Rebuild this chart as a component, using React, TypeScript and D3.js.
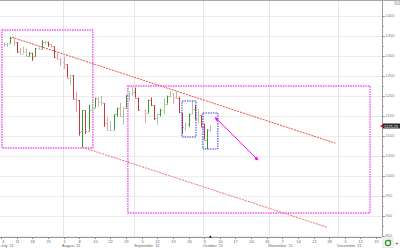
import React from "react";
import * as d3 from "d3";

const dates = [
  "2011-07-01","2011-07-05","2011-07-06","2011-07-07","2011-07-08",
  "2011-07-11","2011-07-12","2011-07-13","2011-07-14","2011-07-15",
  "2011-07-18","2011-07-19","2011-07-20","2011-07-21","2011-07-22",
  "2011-07-25","2011-07-26","2011-07-27","2011-07-28","2011-07-29",
  "2011-08-01","2011-08-02","2011-08-03","2011-08-04","2011-08-05",
  "2011-08-08","2011-08-09","2011-08-10","2011-08-11","2011-08-12",
  "2011-08-15","2011-08-16","2011-08-17","2011-08-18","2011-08-19",
  "2011-08-22","2011-08-23","2011-08-24","2011-08-25","2011-08-26",
  "2011-08-29","2011-08-30","2011-08-31","2011-09-01","2011-09-02",
  "2011-09-06","2011-09-07","2011-09-08","2011-09-09",
  "2011-09-12","2011-09-13","2011-09-14","2011-09-15","2011-09-16",
  "2011-09-19","2011-09-20","2011-09-21","2011-09-22","2011-09-23",
  "2011-09-26","2011-09-27","2011-09-28","2011-09-29","2011-09-30",
  "2011-10-03","2011-10-04","2011-10-05",
];
const opens = [
  1313,1332,1330,1332,1344, 1335,1312,1306,1310,1301, 1308,1299,1321,1318,1336,
  1336,1329,1324,1297,1292, 1285,1279,1246,1252,1192, 1190,1112,1164,1113,1165,
  1171,1196,1185,1182,1132, 1116,1116,1154,1169,1151, 1170,1202,1205,1211,1196,
  1166,1158,1190,1177, 1146,1155,1165,1181,1201, 1207,1197,1196,1157,1121,
  1129,1155,1167,1144,1152, 1123,1089,1117,
];
const highs = [
  1333,1333,1333,1348,1344, 1335,1319,1323,1319,1310, 1308,1320,1322,1339,1338,
  1336,1331,1324,1308,1296, 1299,1279,1253,1252,1210, 1190,1165,1164,1178,1181,
  1196,1196,1200,1182,1147, 1137,1154,1171,1183,1173, 1202,1212,1223,1221,1196,
  1166,1191,1196,1177, 1155,1168,1194,1201,1212, 1207,1212,1198,1157,1134,
  1156,1188,1177,1167,1152, 1131,1117,1127,
];
const lows = [
  1310,1323,1323,1332,1326, 1308,1305,1306,1298,1299, 1288,1299,1316,1318,1329,
  1323,1321,1295,1291,1275, 1267,1246,1227,1192,1160, 1101,1072,1105,1113,1163,
  1171,1173,1176,1123,1114, 1113,1116,1148,1147,1128, 1170,1188,1201,1196,1163,
  1132,1158,1175,1140, 1128,1149,1155,1181,1196, 1180,1193,1158,1106,1113,
  1123,1155,1142,1132,1123, 1091,1067,1110,
];
const closes = [
  1332,1330,1331,1345,1336, 1311,1306,1310,1301,1308, 1297,1319,1318,1336,1337,
  1329,1324,1297,1293,1284, 1279,1246,1252,1192,1191, 1111,1165,1113,1165,1171,
  1196,1185,1186,1133,1116, 1116,1154,1170,1151,1169, 1202,1205,1211,1196,1166,
  1157,1191,1178,1146, 1154,1165,1181,1201,1208, 1196,1194,1159,1122,1128,
  1155,1167,1143,1152,1123, 1091,1116,1125,
];

const priceTicks = [850, 900, 950, 1000, 1050, 1100, 1150, 1200, 1250, 1300, 1350, 1400];
const minorTicks = [875, 925, 975, 1025, 1075, 1125, 1175, 1225, 1275, 1325, 1375];
const weekTicks = [
  "2011-07-04","2011-07-11","2011-07-18","2011-07-25","2011-08-01","2011-08-08",
  "2011-08-15","2011-08-22","2011-08-29","2011-09-05","2011-09-12","2011-09-19",
  "2011-09-26","2011-10-03","2011-10-10","2011-10-17","2011-10-24","2011-10-31",
  "2011-11-07","2011-11-14","2011-11-21","2011-11-28","2011-12-05","2011-12-12","2011-12-19",
];
const monthStarts = ["2011-07-01", "2011-08-01", "2011-09-01", "2011-10-03", "2011-11-01", "2011-12-01"];
const monthLabels = ["July '11", "August '11", "September '11", "October '11", "November '11", "December '11"];
const lastPriceLabel = "1125.25";

// annotations in data units: [weekday index, price]
const upperTrend = [[3.5, 1347], [107, 1082]];
const lowerTrend = [[26, 1072], [104.3, 872]];
const magentaBoxes = [
  [[0.3, 1365], [29.4, 1070]],
  [[40.6, 1225], [118.1, 907.5]],
];
const blueBoxes = [
  [[57.9, 1187.5], [62.4, 1097.5]],
  [[64.6, 1157.5], [69.4, 1067.5]],
];
const arrowPts = [[68.6, 1146], [82.2, 1040]];
const todayIdx = 67;

const base = Date.UTC(2011, 6, 4);
function wIdx(s: string): number {
  const [y, m, d] = s.split("-").map(Number);
  const days = Math.round((Date.UTC(y, m - 1, d) - base) / 86400000);
  const weeks = Math.floor(days / 7);
  const rem = days - weeks * 7;
  return weeks * 5 + Math.min(rem, 5);
}

export default function App() {
  const W = 400, H = 248;
  const plotR = 382, plotB = 237;
  const x = d3.scaleLinear().domain([0, 120]).range([1, 376]);
  const y = d3.scaleLinear().domain([850, 1400]).range([236, 16]);

  const bars = dates.map((d, i) => {
    const o = opens[i], h = highs[i], l = lows[i], c = closes[i];
    const prev = i > 0 ? closes[i - 1] : o;
    const up = c >= prev;
    const strong = Math.abs(c - o) / Math.max(1, h - l) > 0.5;
    const col = up ? (strong ? "#2f9a2f" : "#9ccf9c") : (strong ? "#c33a3a" : "#e6a3a3");
    return { xi: Math.round(x(wIdx(d))) + 0.5, o, h, l, c, col };
  });

  const font = "Liberation Sans, Arial, sans-serif";
  const box = (b: number[][]) => ({
    x: x(b[0][0]), y: y(b[0][1]), width: x(b[1][0]) - x(b[0][0]), height: y(b[1][1]) - y(b[0][1]),
  });

  return (
    <div style={{ position: "fixed", left: 0, top: 0 }}>
      <svg width={W} height={H} style={{ display: "block", background: "#fff" }}>
        <defs>
          <clipPath id="plot"><rect x={0} y={0} width={plotR} height={plotB} /></clipPath>
          <marker id="ah" viewBox="0 0 10 10" refX="8" refY="5" markerWidth="4" markerHeight="4" orient="auto-start-reverse">
            <path d="M0,0 L10,5 L0,10 z" fill="#ff00ff" />
          </marker>
        </defs>
        {/* grid */}
        {priceTicks.map((p) => (
          <line key={"g" + p} x1={0} x2={plotR} y1={Math.round(y(p)) + 0.5} y2={Math.round(y(p)) + 0.5} stroke="#ececec" />
        ))}
        {monthStarts.slice(1).map((m) => (
          <line key={"v" + m} x1={Math.round(x(wIdx(m))) - 0.5} x2={Math.round(x(wIdx(m))) - 0.5} y1={0} y2={plotB} stroke="#e6e6e6" />
        ))}
        {/* top border */}
        <line x1={0} x2={W} y1={0.5} y2={0.5} stroke="#a8a8a8" />
        <rect x={395} y={0.5} width={5} height={4} fill="#ddd" stroke="#999" strokeWidth={0.5} />

        <g clipPath="url(#plot)">
          {/* magenta boxes */}
          {magentaBoxes.map((b, i) => (
            <rect key={"mb" + i} {...box(b)} fill="none" stroke="#f050f0" strokeWidth={1.4} strokeDasharray="1.5 1" />
          ))}
          {/* trend lines */}
          <line x1={x(upperTrend[0][0])} y1={y(upperTrend[0][1])} x2={x(upperTrend[1][0])} y2={y(upperTrend[1][1])}
            stroke="#f04848" strokeWidth={1} strokeDasharray="2 1" />
          <line x1={x(lowerTrend[0][0])} y1={y(lowerTrend[0][1])} x2={x(lowerTrend[1][0])} y2={y(lowerTrend[1][1])}
            stroke="#f08080" strokeWidth={1.1} strokeDasharray="2 1" />
          {/* bars */}
          {bars.map((b, i) => (
            <g key={"b" + i} stroke={b.col} strokeWidth={1}>
              <line x1={b.xi} x2={b.xi} y1={y(b.h)} y2={y(b.l)} />
              <line x1={b.xi - 1} x2={b.xi} y1={Math.round(y(b.o)) + 0.5} y2={Math.round(y(b.o)) + 0.5} />
              <line x1={b.xi} x2={b.xi + 1} y1={Math.round(y(b.c)) + 0.5} y2={Math.round(y(b.c)) + 0.5} />
            </g>
          ))}
          {/* blue boxes */}
          {blueBoxes.map((b, i) => (
            <rect key={"bb" + i} {...box(b)} fill="none" stroke="#3535e0" strokeWidth={1} strokeDasharray="1.5 1" />
          ))}
          {/* arrow */}
          <line x1={x(arrowPts[0][0])} y1={y(arrowPts[0][1])} x2={x(arrowPts[1][0])} y2={y(arrowPts[1][1])}
            stroke="#ff00ff" strokeWidth={1} markerStart="url(#ah)" markerEnd="url(#ah)" />
        </g>

        {/* right axis */}
        <line x1={plotR + 0.5} x2={plotR + 0.5} y1={0} y2={plotB} stroke="#999" />
        {priceTicks.map((p) => (
          <g key={"t" + p}>
            <line x1={plotR} x2={plotR + 3} y1={Math.round(y(p)) + 0.5} y2={Math.round(y(p)) + 0.5} stroke="#999" />
            <text x={plotR + 3.5} y={y(p) + 1.4} fontSize={4} fill="#777" fontFamily={font}>{p}</text>
          </g>
        ))}
        {minorTicks.map((p) => (
          <line key={"mt" + p} x1={plotR} x2={plotR + 2} y1={Math.round(y(p)) + 0.5} y2={Math.round(y(p)) + 0.5} stroke="#aaa" />
        ))}
        {/* last price label */}
        <rect x={plotR + 1} y={y(closes[closes.length - 1]) - 2.5} width={18} height={5} fill="#2a2a2a" />
        <path d={`M${plotR - 2},${y(closes[closes.length - 1])} l3,-2 v4 z`} fill="#e02020" />
        <text x={plotR + 2} y={y(closes[closes.length - 1]) + 1.5} fontSize={4} fill="#fff" fontFamily={font}>{lastPriceLabel}</text>

        {/* bottom axis */}
        <line x1={0} x2={plotR} y1={plotB + 0.5} y2={plotB + 0.5} stroke="#999" />
        {weekTicks.map((t, i) => {
          const xx = Math.round(x(wIdx(t))) + 0.5;
          const day = String(Number(t.slice(8)));
          return (
            <g key={"wt" + i}>
              <line x1={xx} x2={xx} y1={plotB} y2={plotB + 2} stroke="#888" />
              <text x={i === 0 ? xx + 0.5 : xx} y={243} fontSize={4} fill="#666" textAnchor={i === 0 ? "start" : "middle"} fontFamily={font}>{day}</text>
            </g>
          );
        })}
        {monthStarts.map((m, i) => (
          <text key={"ml" + i} x={i === 0 ? 0.5 : x(wIdx(m)) - 1.5} y={247} fontSize={4} fill="#666" fontFamily={font}>{monthLabels[i]}</text>
        ))}
        <path d={`M${x(todayIdx)},${plotB - 1.5} l-1.5,2 h3 z`} fill="#000" />

        {/* corner icons */}
        <rect x={plotR + 1} y={plotB + 1} width={10} height={10} fill="#f4f4f4" stroke="#ccc" strokeWidth={0.5} />
        <circle cx={plotR + 6} cy={plotB + 6} r={2.6} fill="none" stroke="#2a9a2a" strokeWidth={1.2} />
        <path d={`M${plotR + 7.5},${plotB + 2.4} l2,1.2 l-2,1.2 z`} fill="#2a9a2a" />
        <text x={395} y={245} fontSize={6} fill="#555" fontFamily={font}>+</text>
      </svg>
    </div>
  );
}
